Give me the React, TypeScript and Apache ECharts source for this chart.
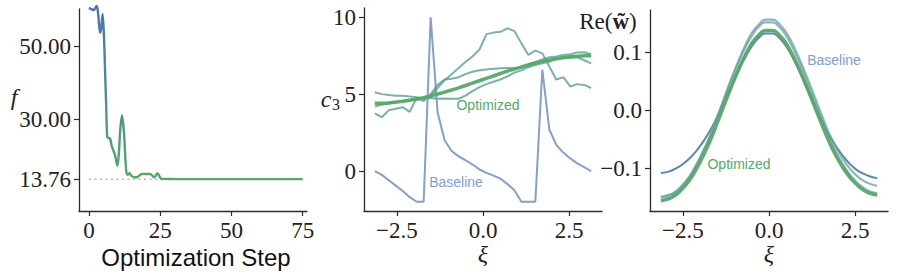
import React, { useEffect, useRef } from "react";
import * as echarts from "echarts";

// Panel 1: objective f along the optimization steps (read at the curve's turning points)
const fSteps = [
  0, 1, 1.6, 2.7, 3.2, 3.9, 4.3, 4.8, 5.3, 5.7, 6.0, 6.4, 7.0, 7.4, 8.0, 8.5, 9.1, 9.6, 10.0, 10.5,
  11.0, 11.6, 12.3, 12.8, 13.2, 13.7, 14.2, 15.0, 16.0, 16.8, 18.0, 18.5, 21.4, 22.9, 24.0, 25.0,
  25.6, 26.5, 30, 40, 50, 60, 70, 75,
];
const fValues = [
  60.5, 60.1, 59.9, 61.0, 59.0, 53.7, 55.0, 58.8, 52.0, 42.0, 35.0, 25.3, 25.0, 24.9, 22.8, 21.7,
  20.4, 18.6, 17.4, 21.0, 27.5, 31.2, 26.3, 19.0, 15.4, 15.0, 15.5, 14.6, 14.3, 14.3, 15.0, 15.2,
  15.2, 14.3, 15.4, 14.2, 13.8, 13.85, 13.8, 13.8, 13.8, 13.8, 13.8, 13.8,
];
const fTarget = 13.76;
const fTicks = [13.76, 30, 50];
const stepTicks = [0, 25, 50, 75];

// Shared ξ grid for panels 2 and 3
const xi = [
  -3.142, -2.939, -2.736, -2.534, -2.331, -2.128, -1.926, -1.723, -1.52, -1.318, -1.115, -0.912,
  -0.709, -0.507, -0.304, -0.101, 0.101, 0.304, 0.507, 0.709, 0.912, 1.115, 1.318, 1.52, 1.723,
  1.926, 2.128, 2.331, 2.534, 2.736, 2.939, 3.142,
];
const xiTicks = [-2.5, 0, 2.5];

// Panel 2: c3(ξ)
const c3Baseline = [
  0, -0.25, -0.6, -0.95, -1.3, -1.7, -2, -2, 10, 3.8, 2.0, 1.3, 0.95, 0.7, 0.42, 0.1, -0.12, -0.3,
  -0.5, -0.85, -1.25, -2, -2, -2, 6.6, 2.7, 1.7, 1.2, 0.82, 0.5, 0.25, 0,
];
const c3IterA = [
  5.12, 5.0, 4.95, 4.9, 4.9, 4.85, 4.8, 4.7, 4.85, 5.4, 5.9, 6.3, 6.7, 7.1, 7.45, 7.9, 8.9, 9.0,
  9.05, 9.28, 9.1, 8.3, 7.55, 7.83, 7.65, 6.8, 5.95, 6.1, 5.5, 5.65, 5.6, 5.4,
];
const c3IterB = [
  3.75, 3.5, 3.95, 4.05, 4.15, 3.85, 4.75, 4.55, 5.0, 5.6, 5.95, 6.0, 6.1, 6.3, 6.45, 6.55, 6.6,
  6.65, 6.68, 6.7, 6.7, 6.72, 6.9, 7.1, 7.25, 7.4, 7.45, 7.55, 7.6, 7.7, 7.72, 7.6,
];
const c3IterC = [
  4.2, 4.3, 4.4, 4.5, 4.55, 4.6, 4.65, 4.75, 4.75, 4.7, 4.72, 4.7, 4.7, 4.9, 5.2, 5.45, 5.65, 5.8,
  5.95, 6.15, 6.4, 6.55, 6.75, 6.9, 7.0, 7.1, 7.3, 7.4, 7.35, 7.4, 7.2, 7.0,
];
const c3Optimized = [
  4.4, 4.41, 4.43, 4.47, 4.53, 4.6, 4.68, 4.77, 4.88, 5.0, 5.13, 5.27, 5.41, 5.56, 5.72, 5.87, 6.03,
  6.18, 6.34, 6.49, 6.63, 6.77, 6.9, 7.02, 7.13, 7.22, 7.3, 7.37, 7.43, 7.47, 7.49, 7.5,
];
const c3Ticks = [0, 5, 10];

// Panel 3: Re(w~)(ξ)
const wBaseline = [
  -0.108, -0.106, -0.101, -0.094, -0.084, -0.071, -0.055, -0.036, -0.013, 0.013, 0.039, 0.066,
  0.09, 0.11, 0.125, 0.133, 0.133, 0.125, 0.11, 0.089, 0.064, 0.037, 0.01, -0.016, -0.04, -0.06,
  -0.077, -0.091, -0.102, -0.109, -0.114, -0.117,
];
const wIterA = [
  -0.149, -0.146, -0.142, -0.131, -0.116, -0.096, -0.072, -0.045, -0.013, 0.019, 0.052, 0.082,
  0.11, 0.133, 0.148, 0.157, 0.157, 0.149, 0.134, 0.112, 0.085, 0.056, 0.025, -0.006, -0.036,
  -0.061, -0.082, -0.099, -0.112, -0.121, -0.127, -0.13,
];
const wIterB = [
  -0.151, -0.148, -0.141, -0.13, -0.116, -0.096, -0.072, -0.046, -0.015, 0.017, 0.049, 0.079,
  0.106, 0.128, 0.144, 0.152, 0.152, 0.144, 0.128, 0.106, 0.079, 0.049, 0.018, -0.013, -0.043,
  -0.069, -0.091, -0.109, -0.123, -0.133, -0.14, -0.143,
];
const wOptimized = [
  -0.156, -0.153, -0.147, -0.136, -0.122, -0.103, -0.08, -0.054, -0.024, 0.007, 0.038, 0.067,
  0.093, 0.115, 0.13, 0.138, 0.138, 0.13, 0.115, 0.093, 0.067, 0.038, 0.008, -0.022, -0.051,
  -0.076, -0.097, -0.114, -0.127, -0.137, -0.143, -0.146,
];
const wTicks = [-0.1, 0, 0.1];

const BLUE = "#4c72b0";
const GREEN = "#55a868";
const AXIS = "#2b2b2b";
const SERIF = "'Liberation Serif', 'DejaVu Serif', serif";
const SANS = "'Liberation Sans', Arial, sans-serif";

const minus = (s: string) => s.replace("-", "\u2212");

function axisCommon(ticks: number[], fmt: (v: number) => string) {
  return {
    axisLine: { show: true, onZero: false, lineStyle: { color: AXIS, width: 1.3 } },
    axisTick: {
      show: true,
      length: 5,
      inside: false,
      customValues: ticks,
      lineStyle: { color: AXIS, width: 1.2 },
    },
    axisLabel: {
      show: true,
      customValues: ticks,
      formatter: (v: number) => fmt(v),
      fontFamily: SERIF,
      fontSize: 23,
      color: "#222",
      margin: 8,
    },
    splitLine: { show: false },
  };
}

const pair = (xs: number[], ys: number[]) => ys.map((y, i) => [xs[i], y]);

export default function App() {
  const ref = useRef<HTMLDivElement>(null);
  useEffect(() => {
    document.body.style.margin = "0";
    if (!ref.current) return;
    const chart = echarts.init(ref.current, undefined, { renderer: "svg" });

    const thin = (color: string, width: number, opacity = 1) => ({
      color,
      width,
      opacity,
    });

    chart.setOption({
      animation: false,
      backgroundColor: "#ffffff",
      grid: [
        { left: 79, top: 9, width: 228, height: 202 },
        { left: 364, top: 8, width: 238, height: 203 },
        { left: 650, top: 10, width: 238, height: 201 },
      ],
      xAxis: [
        {
          gridIndex: 0,
          type: "value",
          min: -3.5,
          max: 76.5,
          ...axisCommon(stepTicks, (v) => String(v)),
        },
        {
          gridIndex: 1,
          type: "value",
          min: -3.456,
          max: 3.456,
          ...axisCommon(xiTicks, (v) => minus(v.toFixed(1))),
        },
        {
          gridIndex: 2,
          type: "value",
          min: -3.456,
          max: 3.456,
          ...axisCommon(xiTicks, (v) => minus(v.toFixed(1))),
        },
      ],
      yAxis: [
        {
          gridIndex: 0,
          type: "value",
          min: 5.1,
          max: 60.2,
          ...axisCommon(fTicks, (v) => v.toFixed(2)),
        },
        {
          gridIndex: 1,
          type: "value",
          min: -2.6,
          max: 10.6,
          ...axisCommon(c3Ticks, (v) => String(v)),
        },
        {
          gridIndex: 2,
          type: "value",
          min: -0.1735,
          max: 0.1735,
          ...axisCommon(wTicks, (v) => minus(v.toFixed(1))),
        },
      ],
      series: [
        {
          type: "line",
          xAxisIndex: 0,
          yAxisIndex: 0,
          data: [
            [0, fTarget],
            [75, fTarget],
          ],
          showSymbol: false,
          lineStyle: { color: "#b5b5b5", width: 1.5, type: [2, 3.5] },
          z: 1,
        },
        {
          type: "line",
          xAxisIndex: 0,
          yAxisIndex: 0,
          data: pair(fSteps, fValues),
          showSymbol: false,
          smooth: 0.3,
          clip: false,
          lineStyle: {
            width: 2.4,
            color: new echarts.graphic.LinearGradient(0, 0, 0, 1, [
              { offset: 0, color: BLUE },
              { offset: 0.45, color: "#4b8d92" },
              { offset: 1, color: GREEN },
            ]),
          },
          z: 3,
        },
        {
          type: "line",
          xAxisIndex: 1,
          yAxisIndex: 1,
          data: pair(xi, c3Baseline),
          showSymbol: false,
          lineStyle: thin(BLUE, 2, 0.68),
        },
        {
          type: "line",
          xAxisIndex: 1,
          yAxisIndex: 1,
          data: pair(xi, c3IterA),
          showSymbol: false,
          lineStyle: thin("#5c9c98", 2, 0.8),
        },
        {
          type: "line",
          xAxisIndex: 1,
          yAxisIndex: 1,
          data: pair(xi, c3IterB),
          showSymbol: false,
          lineStyle: thin("#5a9e92", 2, 0.8),
        },
        {
          type: "line",
          xAxisIndex: 1,
          yAxisIndex: 1,
          data: pair(xi, c3IterC),
          showSymbol: false,
          lineStyle: thin("#58a08c", 2, 0.8),
        },
        {
          type: "line",
          xAxisIndex: 1,
          yAxisIndex: 1,
          data: pair(xi, c3Optimized),
          showSymbol: false,
          smooth: true,
          lineStyle: thin(GREEN, 3.5, 0.95),
        },
        {
          type: "line",
          xAxisIndex: 2,
          yAxisIndex: 2,
          data: pair(xi, wBaseline),
          showSymbol: false,
          smooth: true,
          lineStyle: thin("#4a7aa5", 2, 0.9),
        },
        {
          type: "line",
          xAxisIndex: 2,
          yAxisIndex: 2,
          data: pair(xi, wIterA),
          showSymbol: false,
          smooth: true,
          lineStyle: thin("#6c9eaa", 2.2, 0.75),
        },
        {
          type: "line",
          xAxisIndex: 2,
          yAxisIndex: 2,
          data: pair(xi, wIterB),
          showSymbol: false,
          smooth: true,
          lineStyle: thin("#6aa0a6", 2.2, 0.75),
        },
        {
          type: "line",
          xAxisIndex: 2,
          yAxisIndex: 2,
          data: pair(xi, wOptimized),
          showSymbol: false,
          smooth: true,
          lineStyle: thin(GREEN, 3.5, 0.95),
        },
      ],
      graphic: [
        {
          type: "text",
          x: 14,
          y: 97,
          style: {
            text: "f",
            font: `italic 24px ${SERIF}`,
            fill: "#222",
            align: "center",
            verticalAlign: "middle",
          },
        },
        {
          type: "text",
          x: 196,
          y: 257,
          style: {
            text: "Optimization Step",
            font: `24px ${SANS}`,
            fill: "#111",
            align: "center",
            verticalAlign: "middle",
          },
        },
        {
          type: "text",
          x: 326,
          y: 99,
          style: {
            text: "c",
            font: `italic 24px ${SERIF}`,
            fill: "#222",
            align: "center",
            verticalAlign: "middle",
          },
        },
        {
          type: "text",
          x: 336,
          y: 104,
          style: {
            text: "3",
            font: `16px ${SERIF}`,
            fill: "#222",
            align: "center",
            verticalAlign: "middle",
          },
        },
        {
          type: "text",
          x: 483,
          y: 254,
          style: {
            text: "ξ",
            font: `italic 24px ${SERIF}`,
            fill: "#222",
            align: "center",
            verticalAlign: "middle",
          },
        },
        {
          type: "text",
          x: 769,
          y: 254,
          style: {
            text: "ξ",
            font: `italic 24px ${SERIF}`,
            fill: "#222",
            align: "center",
            verticalAlign: "middle",
          },
        },
        {
          type: "text",
          x: 608,
          y: 21,
          style: {
            text: "{a|Re(}{b|w\u0303}{a|)}",
            align: "center",
            verticalAlign: "middle",
            rich: {
              a: { fontFamily: SERIF, fontSize: 23, fill: "#222" },
              b: { fontFamily: SERIF, fontSize: 23, fontWeight: "bold", fill: "#222" },
            },
          },
        },
        {
          type: "text",
          x: 488,
          y: 105,
          style: {
            text: "Optimized",
            font: `14px ${SANS}`,
            fill: GREEN,
            align: "center",
            verticalAlign: "middle",
          },
        },
        {
          type: "text",
          x: 456,
          y: 182,
          style: {
            text: "Baseline",
            font: `14px ${SANS}`,
            fill: "#7f9ed2",
            align: "center",
            verticalAlign: "middle",
          },
        },
        {
          type: "text",
          x: 834,
          y: 60,
          style: {
            text: "Baseline",
            font: `14px ${SANS}`,
            fill: "#7f9ed2",
            align: "center",
            verticalAlign: "middle",
          },
        },
        {
          type: "text",
          x: 739,
          y: 164,
          style: {
            text: "Optimized",
            font: `14px ${SANS}`,
            fill: GREEN,
            align: "center",
            verticalAlign: "middle",
          },
        },
      ],
    });
    return () => chart.dispose();
  }, []);
  return <div ref={ref} style={{ width: 897, height: 278 }} />;
}
